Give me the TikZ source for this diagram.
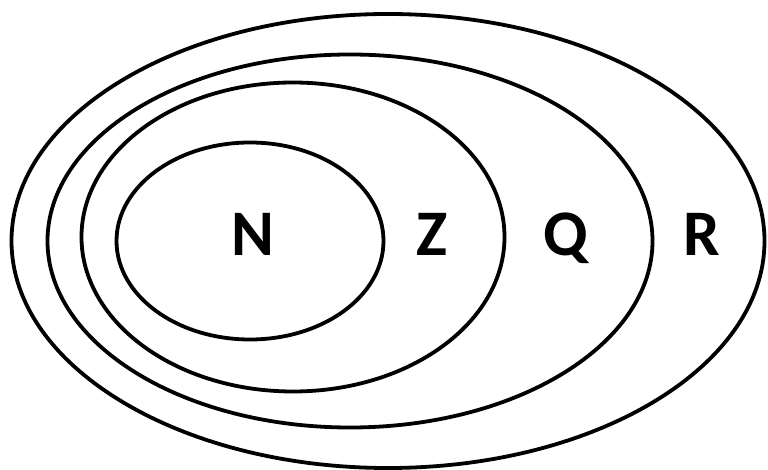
\documentclass[tikz,border=0pt]{standalone}
\usepackage{fontspec}
\setmainfont{Carlito}
\usepackage{tikz}
\usetikzlibrary{shapes.geometric}

\begin{document}
\begin{tikzpicture}[x=1bp,y=-1bp,
                    setline/.style={draw, ellipse, line width=3.8bp, inner sep=0pt},
                    setlabel/.style={anchor=base, inner sep=0pt, font=\fontsize{65bp}{70bp}\selectfont\bfseries}]
  \useasboundingbox (0,0) rectangle (768,470);
  \node[setline, minimum width=753bp, minimum height=454bp] (R) at (388,241) {};
  \node[setline, minimum width=605bp, minimum height=373bp] (Q) at (350,241) {};
  \node[setline, minimum width=423bp, minimum height=309bp] (Z) at (293,237) {};
  \node[setline, minimum width=267bp, minimum height=197bp] (N) at (250,241) {};
  \node[setlabel] (lN) at (253,256) {N};
  \node[setlabel] (lZ) at (432,256) {Z};
  \node[setlabel] (lQ) at (566,256) {Q};
  \node[setlabel] (lR) at (702,256) {R};
\end{tikzpicture}
\end{document}
